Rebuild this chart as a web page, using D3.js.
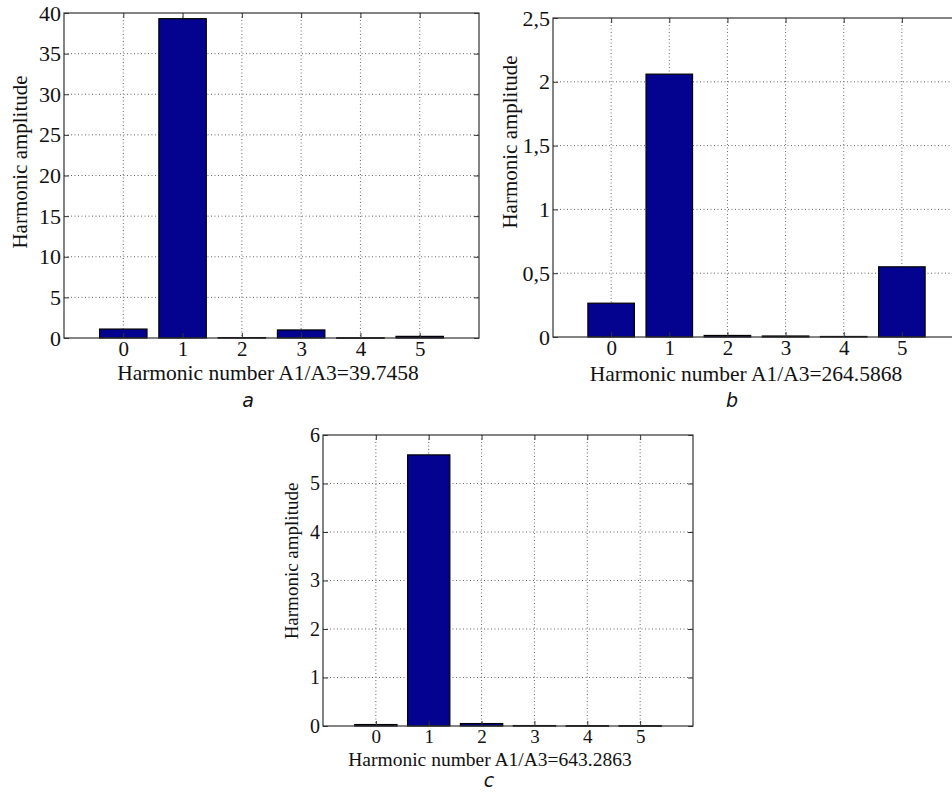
<!DOCTYPE html>
<html lang="en">
<head>
<meta charset="UTF-8">
<title>Harmonic amplitude spectra</title>
<script src="https://d3js.org/d3.v7.min.js"></script>
<style>
    body, html { margin: 0; padding: 0; background: #fff; overflow: hidden; }
    svg { display: block; }
    .serif { font-family: "Liberation Serif", serif; }
</style>
</head>
<body>
<script>
    // harmonic numbers on the x axis
    const harmonics = [0, 1, 2, 3, 4, 5];

    // amplitudes
    const ampA = [1.1, 39.3, 0.05, 0.99, 0.03, 0.2];
    const ampB = [0.265, 2.06, 0.012, 0.0078, 0.004, 0.55];
    const ampC = [0.03, 5.59, 0.05, 0.0087, 0.006, 0.006];

    // y tick values
    const ticksA = [0, 5, 10, 15, 20, 25, 30, 35, 40];
    const ticksB = [0, 0.5, 1, 1.5, 2, 2.5];
    const ticksC = [0, 1, 2, 3, 4, 5, 6];

    // A1/A3 ratios printed in the x labels
    const ratios = ["39.7458", "264.5868", "643.2863"];
    const letters = ["a", "b", "c"];

    const width = 952, height = 792;
    const svg = d3.select("body").append("svg")
        .attr("width", width)
        .attr("height", height);

    const serif = "Liberation Serif";
    const barColor = "#03038f";

    const panels = [
        { values: ampA, ticks: ticksA, ratio: ratios[0], letter: letters[0],
          l: 64, t: 13, r: 479, b: 338, fs: 21,
          ylab: [20, 162], xlab: [268, 380], let: [248, 407] },
        { values: ampB, ticks: ticksB, ratio: ratios[1], letter: letters[1],
          l: 553, t: 18, r: 960, b: 337, fs: 21, comma: true,
          ylab: [510, 142], xlab: [746, 381], let: [732, 407] },
        { values: ampC, ticks: ticksC, ratio: ratios[2], letter: letters[2],
          l: 323, t: 435, r: 693, b: 726, fs: 19,
          ylab: [291, 561], xlab: [490, 766], let: [489, 787] }
    ];

    panels.forEach(drawPanel);

    function drawPanel(p) {
        const g = svg.append("g");
        const yMax = p.ticks[p.ticks.length - 1];

        const x = d3.scaleLinear().domain([-1, 6]).range([p.l, p.r]);
        const y = d3.scaleLinear().domain([0, yMax]).range([p.b, p.t]);
        const fmt = p.comma ? d => String(d).replace(".", ",") : d => String(d);

        // dotted grid
        g.selectAll(".vgrid").data(harmonics).enter().append("line")
            .attr("x1", d => x(d)).attr("x2", d => x(d))
            .attr("y1", p.t).attr("y2", p.b)
            .attr("stroke", "#666").attr("stroke-width", 1)
            .attr("stroke-dasharray", "1,2.5");
        g.selectAll(".hgrid").data(p.ticks.filter(d => d > 0 && d < yMax)).enter().append("line")
            .attr("x1", p.l).attr("x2", p.r)
            .attr("y1", d => y(d)).attr("y2", d => y(d))
            .attr("stroke", "#666").attr("stroke-width", 1)
            .attr("stroke-dasharray", "1,2.5");

        // bars, width 0.8 like matlab bar()
        const bw = x(0.8) - x(0);
        g.selectAll(".bar").data(p.values).enter().append("rect")
            .attr("x", (d, i) => x(harmonics[i]) - bw / 2)
            .attr("y", d => y(d))
            .attr("width", bw)
            .attr("height", d => Math.max(p.b - y(d), 0.5))
            .attr("fill", barColor)
            .attr("stroke", "#000")
            .attr("stroke-width", 1.2);

        // axes with inward ticks
        const left = g.append("g").attr("transform", `translate(${p.l},0)`)
            .call(d3.axisLeft(y).tickValues(p.ticks).tickSize(-5).tickPadding(3).tickFormat(fmt));
        const right = g.append("g").attr("transform", `translate(${p.r},0)`)
            .call(d3.axisRight(y).tickValues(p.ticks).tickSize(-5).tickFormat(""));
        const bottom = g.append("g").attr("transform", `translate(0,${p.b})`)
            .call(d3.axisBottom(x).tickValues(harmonics).tickSize(-5).tickPadding(3).tickFormat(d3.format("d")));
        const top = g.append("g").attr("transform", `translate(0,${p.t})`)
            .call(d3.axisTop(x).tickValues(harmonics).tickSize(-5).tickFormat(""));

        [left, right, bottom, top].forEach(a => {
            a.attr("font-family", serif).attr("font-size", p.fs + 1);
            a.select(".domain").remove();
            a.selectAll("line").attr("stroke", "#333");
            a.selectAll("text").attr("fill", "#111");
        });
        bottom.attr("font-size", p.fs);

        // box
        g.append("rect")
            .attr("x", p.l).attr("y", p.t)
            .attr("width", p.r - p.l).attr("height", p.b - p.t)
            .attr("fill", "none").attr("stroke", "#333").attr("stroke-width", 1.2);

        // axis titles
        g.append("text")
            .attr("class", "serif")
            .attr("transform", `translate(${p.ylab[0]},${p.ylab[1]}) rotate(-90)`)
            .attr("text-anchor", "middle")
            .attr("dy", "0.35em")
            .attr("font-size", p.fs)
            .attr("fill", "#111")
            .text("Harmonic amplitude");

        g.append("text")
            .attr("class", "serif")
            .attr("x", p.xlab[0]).attr("y", p.xlab[1])
            .attr("text-anchor", "middle")
            .attr("font-size", p.fs + 0.5)
            .attr("fill", "#111")
            .text("Harmonic number A1/A3=" + p.ratio);

        // panel letter
        g.append("text")
            .attr("x", p.let[0]).attr("y", p.let[1])
            .attr("text-anchor", "middle")
            .attr("font-family", "DejaVu Sans")
            .attr("font-style", "italic")
            .attr("font-size", 19)
            .attr("fill", "#111")
            .text(p.letter);
    }
</script>
</body>
</html>
